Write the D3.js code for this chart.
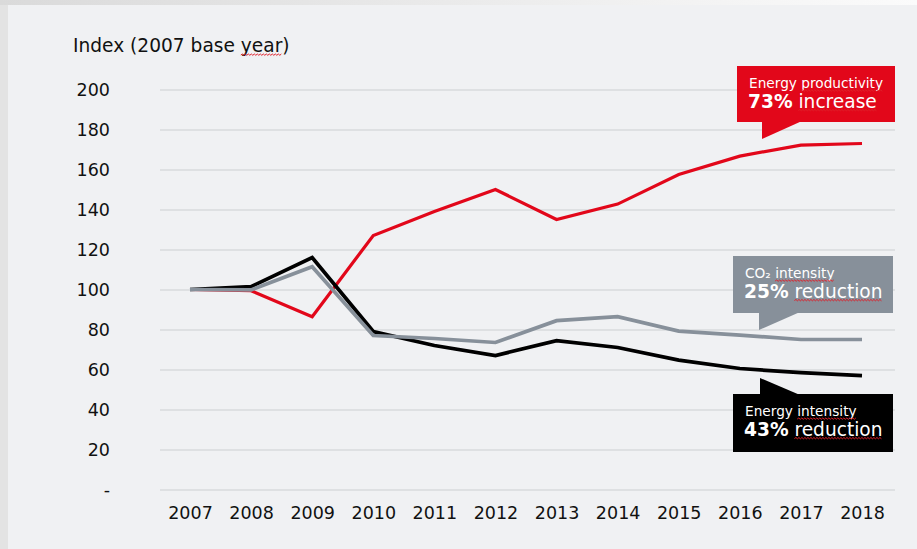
<!DOCTYPE html>
<html>
<head>
<meta charset="utf-8">
<script src="https://cdn.jsdelivr.net/npm/d3@7"></script>
<style>
body { margin: 0; background: #f0f1f3; overflow: hidden; }
svg { display: block; font-family: "DejaVu Sans", Verdana, sans-serif; }
</style>
</head>
<body>
<script>
// index values, 2007 = 100
var years = [2007, 2008, 2009, 2010, 2011, 2012, 2013, 2014, 2015, 2016, 2017, 2018];
var energyProductivity = [100, 99.4, 86.4, 127, 139, 150, 135, 142.7, 157.5, 166.7, 172.2, 173];
var co2Intensity = [100, 99.8, 111.4, 77, 75.5, 73.5, 84.4, 86.4, 79.2, 77.2, 75, 75];
var energyIntensity = [100, 101.4, 116, 79, 72, 67, 74.4, 71, 64.7, 60.5, 58.4, 56.9];
var yTicks = [0, 20, 40, 60, 80, 100, 120, 140, 160, 180, 200];
var yTitle = "Index (2007 base year)";

var svgWidth = 917;
var svgHeight = 549;

var xScale = d3.scalePoint()
    .domain(years)
    .range([190, 862]);

var yScale = d3.scaleLinear()
    .domain([0, 200])
    .range([489.5, 89.5]);

var svg = d3.select('body').append('svg')
    .attr('width', svgWidth)
    .attr('height', svgHeight);

var defs = svg.append('defs');
var grad = defs.append('linearGradient').attr('id', 'topfade');
grad.append('stop').attr('offset', '0%').attr('stop-color', '#dadada');
grad.append('stop').attr('offset', '100%').attr('stop-color', '#fbfbfb');

// frame of the slide
svg.append('rect').attr('width', svgWidth).attr('height', svgHeight).attr('fill', 'url(#topfade)');
svg.append('rect').attr('x', 0).attr('y', 5).attr('width', 8).attr('height', svgHeight).attr('fill', '#e3e3e3');
svg.append('rect').attr('x', 8).attr('y', 5).attr('width', svgWidth - 8).attr('height', svgHeight).attr('fill', '#f0f1f3');

// gridlines + y labels
var yAxis = d3.axisLeft(yScale)
    .tickValues(yTicks)
    .tickSize(-(895 - 160))
    .tickPadding(50)
    .tickFormat(function(d) { return d === 0 ? '-' : d; });

var gy = svg.append('g')
    .attr('transform', 'translate(160,0)')
    .call(yAxis);
gy.select('.domain').remove();
gy.selectAll('.tick line').attr('stroke', '#d9dadc').attr('stroke-width', 1.3);
gy.selectAll('.tick text')
    .attr('fill', '#111')
    .style('font-size', '17.5px')
    .attr('font-family', '"DejaVu Sans", Verdana, sans-serif');

var xAxis = d3.axisBottom(xScale).tickSize(0).tickPadding(0);
var gx = svg.append('g')
    .attr('transform', 'translate(0,507)')
    .call(xAxis);
gx.select('.domain').remove();
gx.selectAll('.tick text')
    .attr('fill', '#111')
    .attr('dy', '0.71em')
    .style('font-size', '17.5px')
    .attr('font-family', '"DejaVu Sans", Verdana, sans-serif');

// squiggly spell-check underline under chars [a, b)
function squiggle(textSel, a, b, g) {
    var node = textSel.node();
    var x0 = node.getStartPositionOfChar(a).x;
    var x1 = node.getEndPositionOfChar(b - 1).x;
    var y = node.getStartPositionOfChar(a).y + 3;
    var p = 'M' + x0 + ',' + y;
    var up = true;
    for (var x = x0 + 1.5; x <= x1; x += 1.5) {
        p += 'L' + x + ',' + (up ? y - 1 : y + 0.3);
        up = !up;
    }
    g.append('path').attr('d', p).attr('fill', 'none')
        .attr('stroke', '#e0202a').attr('stroke-width', 1);
}

var title = svg.append('text')
    .attr('x', 73).attr('y', 52)
    .attr('fill', '#111')
    .style('font-size', '18.6px')
    .text(yTitle);
squiggle(title, 17, 21, svg);

// lines
var line = d3.line()
    .x(function(d, i) { return xScale(years[i]); })
    .y(function(d) { return yScale(d); });

var series = [
    { values: energyProductivity, color: '#e2071a', width: 3.2 },
    { values: energyIntensity, color: '#000000', width: 3.7 },
    { values: co2Intensity, color: '#87909a', width: 3.7 }
];

svg.selectAll('path.series')
    .data(series)
    .enter()
    .append('path')
    .attr('class', 'series')
    .attr('d', function(d) { return line(d.values); })
    .attr('fill', 'none')
    .attr('stroke', function(d) { return d.color; })
    .attr('stroke-width', function(d) { return d.width; })
    .attr('stroke-linejoin', 'miter');

// callouts
function callout(opts) {
    var g = svg.append('g');
    g.append('rect')
        .attr('x', opts.x).attr('y', opts.y)
        .attr('width', opts.w).attr('height', opts.h)
        .attr('fill', opts.color);
    g.append('path')
        .attr('d', opts.tail)
        .attr('fill', opts.color);
    var t1 = g.append('text')
        .attr('x', opts.x + 12).attr('y', opts.y + 22)
        .attr('fill', '#fff')
        .style('font-size', '13.7px')
        .text(opts.label);
    var t2 = g.append('text')
        .attr('x', opts.x + 11).attr('y', opts.y + 41.5)
        .attr('fill', '#fff')
        .style('font-size', '18.6px');
    t2.append('tspan').attr('font-weight', 'bold').text(opts.pct);
    t2.append('tspan').text(' ' + opts.word);
    squiggle(t1, opts.sq1[0], opts.sq1[1], g);
    squiggle(t2, opts.pct.length + 1, opts.pct.length + 1 + opts.word.length, g);
}

callout({
    x: 737, y: 66, w: 158, h: 56, color: '#e2071a',
    tail: 'M762,121L762,139L802,121Z',
    label: 'Energy productivity',
    sq1: [7, 19],
    pct: '73%', word: 'increase'
});

callout({
    x: 733, y: 256, w: 160, h: 57, color: '#87909a',
    tail: 'M759,312L759,330L800,312Z',
    label: 'CO\u2082 intensity',
    sq1: [4, 13],
    pct: '25%', word: 'reduction'
});

callout({
    x: 733, y: 394, w: 160, h: 58, color: '#000000',
    tail: 'M760,395L760,378L800,395Z',
    label: 'Energy intensity',
    sq1: [7, 16],
    pct: '43%', word: 'reduction'
});
</script>
</body>
</html>
